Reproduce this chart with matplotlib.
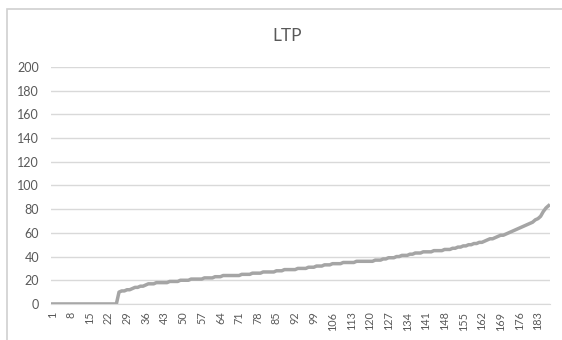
import matplotlib.pyplot as plt
import matplotlib.patches as patches

plt.rcParams['font.family'] = ['Lato', 'DejaVu Sans']

# sorted LTP values, one per observation
ltp = [0] * 25 + [
    10, 11, 11, 12, 12, 13, 14, 14, 15, 15, 16, 17, 17, 17, 18, 18, 18, 18, 18,
    19, 19, 19, 19, 20, 20, 20, 20, 21, 21, 21, 21, 21, 22, 22, 22, 22, 23, 23,
    23, 24, 24, 24, 24, 24, 24, 24, 25, 25, 25, 25, 26, 26, 26, 26, 27, 27, 27,
    27, 27, 28, 28, 28, 29, 29, 29, 29, 29, 30, 30, 30, 30, 31, 31, 31, 32, 32,
    32, 33, 33, 33, 34, 34, 34, 34, 35, 35, 35, 35, 35, 36, 36, 36, 36, 36, 36,
    36, 37, 37, 37, 38, 38, 39, 39, 39, 40, 40, 41, 41, 41, 42, 42, 43, 43, 43,
    44, 44, 44, 44, 45, 45, 45, 45, 46, 46, 46, 47, 47, 48, 48, 49, 49, 50, 50,
    51, 51, 52, 52, 53, 54, 55, 55, 56, 57, 58, 58, 59, 60, 61, 62, 63, 64, 65,
    66, 67, 68, 69, 71, 72, 74, 78, 81, 83,
]
idx = list(range(1, len(ltp) + 1))
xlabels = idx[::7]
yticks = list(range(0, 201, 20))

fig = plt.figure(figsize=(5.62, 3.4), dpi=100)
ax = fig.add_axes([0.0907, 0.106, 0.8879, 0.697])

# chart border
fig.patches.append(patches.Rectangle((7 / 562, -0.1), 1.2, 331 / 340 + 0.1,
                                     transform=fig.transFigure, fill=False,
                                     edgecolor='#D0D0D0', linewidth=1.2))

ax.plot(idx, ltp, color='#A5A5A5', linewidth=2.5, solid_joinstyle='round')

ax.set_xlim(0.5, len(ltp) + 0.5)
ax.set_ylim(0, 200)
ax.set_yticks(yticks)
ax.set_xticks(xlabels)
ax.set_xticklabels([str(v) for v in xlabels], rotation=90)
ax.grid(axis='y', color='#D9D9D9', linewidth=1)
ax.set_axisbelow(True)
for s in ['top', 'right', 'left']:
    ax.spines[s].set_visible(False)
ax.spines['bottom'].set_color('#D9D9D9')
ax.tick_params(axis='both', length=0, labelcolor='#595959')
ax.tick_params(axis='y', pad=8.5, labelsize=9)
ax.tick_params(axis='x', pad=5.5, labelsize=7.8)

fig.text(0.511, 0.893, 'LTP', ha='center', va='center', fontsize=12.5, color='#595959')

fig.savefig('out.png', dpi=100)
